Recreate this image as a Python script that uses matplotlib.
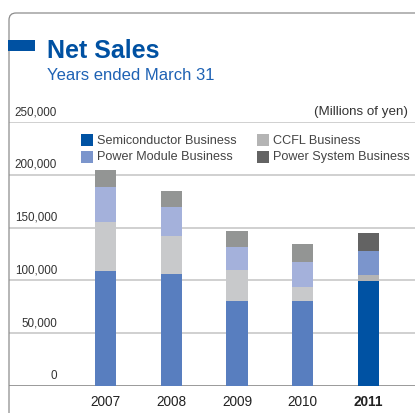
import matplotlib
matplotlib.use("Agg")
import matplotlib.pyplot as plt
from matplotlib.patches import Rectangle, FancyBboxPatch
from matplotlib.transforms import ScaledTranslation, blended_transform_factory

# Net sales by business segment (millions of yen), fiscal years ended March 31
years = ["2007", "2008", "2009", "2010", "2011"]
semiconductor = [109000, 106000, 80500, 80500, 99500]
ccfl = [46000, 36000, 29500, 13000, 5500]
power_module = [33500, 27500, 21500, 24000, 23000]
power_system = [16000, 15000, 15000, 17000, 17000]

segment_names = ["Semiconductor Business", "CCFL Business",
                 "Power Module Business", "Power System Business"]
y_ticks = [0, 50000, 100000, 150000, 200000, 250000]
y_tick_labels = ["0", "50,000", "100,000", "150,000", "200,000", "250,000"]

# Past years in muted tones, the latest year in full colour
past_colors = ["#587EBF", "#C8C9CB", "#A4B1DB", "#939594"]
current_colors = ["#0052A3", "#B4B4B4", "#7B95CC", "#636363"]

W, H = 415, 414
fig = plt.figure(figsize=(W / 100, H / 100), dpi=100)
fig.patch.set_facecolor("white")

REG = ["Liberation Sans", "DejaVu Sans"]


def px(x, y_top):
    """Figure point given in pixels from the top-left corner."""
    return (x / 100, (H - y_top) / 100)


pix = fig.dpi_scale_trans

# Plot area: value 0 sits at y=387 px, 250,000 at y=123 px
y0, y250 = 387, 123
ax = fig.add_axes([9 / W, (H - y0) / H, (W - 9) / W, (y0 - y250) / H])
ax.set_ylim(0, 250000)
bar_w = 0.32
x_left = (9 - 105.5) / 65.75
x_right = (W - 105.5) / 65.75
ax.set_xlim(x_left, x_right)
ax.axis("off")

# Horizontal grid lines
for v in y_ticks:
    if v == 0:
        ax.axhline(v, color="#9A9A9A", lw=1.4, zorder=1)
    else:
        ax.axhline(v, color="#C4C4C4", lw=1.1, zorder=1)

# Stacked bars
xs = list(range(len(years)))
series = [semiconductor, ccfl, power_module, power_system]
bottoms = [0] * len(years)
for k, vals in enumerate(series):
    cols = [current_colors[k] if i == len(years) - 1 else past_colors[k]
            for i in range(len(years))]
    ax.bar(xs, vals, width=bar_w, bottom=bottoms, color=cols,
           linewidth=0, zorder=2)
    bottoms = [b + v for b, v in zip(bottoms, vals)]

# Y-axis value labels, placed just above their grid lines
lab_tr = blended_transform_factory(pix, ax.transData) + ScaledTranslation(0, 11 / 100, pix)
for v, t in zip(y_ticks, y_tick_labels):
    ax.text(57 / 100, v, t, transform=lab_tr, ha="right", va="center",
            fontsize=8.4, family=REG, color="#333333")

# Year labels under the bars
yr_tr = blended_transform_factory(ax.transData, pix)
for i, y in enumerate(years):
    last = i == len(years) - 1
    ax.text(i, (H - 402) / 100, y, transform=yr_tr, ha="center", va="center",
            fontsize=9.8, family=REG, color="#222222",
            fontweight="bold" if last else "normal")

fig.text(*px(408, 112), "(Millions of yen)", transform=pix, ha="right",
         va="center", fontsize=9.6, family=REG, color="#333333")

# Legend in the latest-year colours, two columns
legend_slots = [(0, 81, 141), (2, 81, 157.5), (1, 257, 141), (3, 257, 157.5)]
for k, lx, ly in legend_slots:
    fig.add_artist(Rectangle(px(lx, ly + 6), 12 / 100, 12 / 100, transform=pix,
                             facecolor=current_colors[k], edgecolor="none"))
    fig.text(*px(lx + 16, ly), segment_names[k], transform=pix, ha="left",
             va="center", fontsize=9.1, family=REG, color="#444444")

# Panel frame with rounded top-left corner
frame = FancyBboxPatch(px(9, 434), 440 / 100, 420 / 100, transform=pix,
                       boxstyle="round,pad=0,rounding_size=0.07",
                       facecolor="none", edgecolor="#8C8C8C", lw=0.9,
                       clip_on=False)
fig.add_artist(frame)

# Heading
fig.add_artist(Rectangle(px(8, 52), 27 / 100, 11 / 100, transform=pix,
                         facecolor="#0051A2", edgecolor="none"))
fig.text(*px(47, 58), "Net Sales", transform=pix, ha="left", va="baseline",
         fontsize=18, fontweight="bold", family=REG, color="#0051A2")
fig.text(*px(47, 80), "Years ended March 31", transform=pix, ha="left",
         va="baseline", fontsize=12, family=REG, color="#1E62B4")

fig.savefig("out.png", dpi=100, facecolor="white")
